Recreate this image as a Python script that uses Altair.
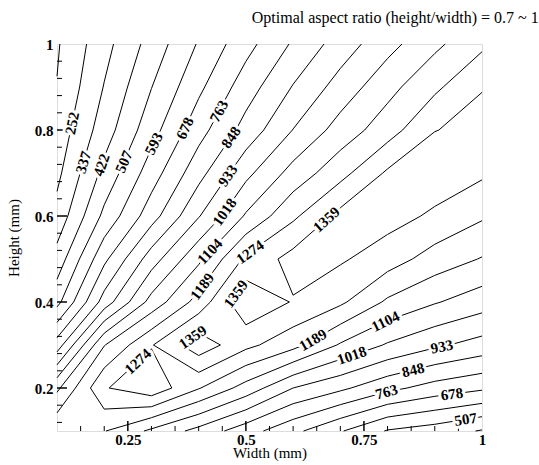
import math
import altair as alt
import pandas as pd

# ---------------- data ----------------
x_nodes = [0.1, 0.2, 0.3, 0.4, 0.5, 0.6, 0.7, 0.8, 0.9, 1.0]
y_nodes = [0.1, 0.2, 0.3, 0.4, 0.5, 0.6, 0.7, 0.8, 0.9, 1.0]

# grid values, one list per height (y), ordered by width (x)
z_h010 = [1180, 1108, 1001, 905, 800, 700, 600, 500, 466, 415]
z_h020 = [1000, 1267, 1334, 1195, 1070, 933, 866, 787, 729, 692]
z_h030 = [718, 1100, 1268, 1412, 1297, 1217, 1095, 1009, 948, 900]
z_h040 = [480, 800, 1050, 1223, 1429, 1353, 1290, 1175, 1111, 1058]
z_h050 = [370, 658, 892, 1086, 1291, 1391, 1370, 1315, 1237, 1184]
z_h060 = [280, 528, 726, 927, 1114, 1257, 1386, 1392, 1345, 1285]
z_h070 = [231, 447, 637, 818, 994, 1136, 1244, 1372, 1408, 1373]
z_h080 = [200, 380, 560, 730, 880, 1020, 1140, 1235, 1357, 1380]
z_h090 = [170, 341, 505, 659, 807, 938, 1053, 1161, 1256, 1356]
z_h100 = [158, 308, 455, 601, 733, 859, 972, 1075, 1170, 1256]

levels = [167, 252, 337, 422, 507, 593, 678, 763, 848, 933, 1018, 1104, 1189, 1274, 1359]

label_level = [252, 337, 422, 507, 593, 678, 763, 848, 933, 1018, 1104, 1189, 1274,
               1359, 1359, 1359, 1274, 1189, 1104, 1018, 933, 848, 763, 678, 507]
label_x = [0.132, 0.161, 0.193, 0.242, 0.304, 0.371, 0.437, 0.467, 0.460, 0.449, 0.424, 0.394, 0.516,
           0.668, 0.477, 0.389, 0.272, 0.632, 0.798, 0.724, 0.915, 0.855, 0.798, 0.936, 0.964]
label_y = [0.816, 0.723, 0.719, 0.726, 0.769, 0.804, 0.847, 0.784, 0.695, 0.614, 0.517, 0.447, 0.505,
           0.595, 0.420, 0.316, 0.261, 0.331, 0.350, 0.277, 0.296, 0.238, 0.191, 0.188, 0.137]

title_text = "Optimal aspect ratio (height/width) = 0.7 ~ 1"
x_major = [0.25, 0.5, 0.75, 1.0]
x_minor = [0.15, 0.2, 0.3, 0.35, 0.4, 0.45, 0.55, 0.6, 0.65, 0.7, 0.8, 0.85, 0.9, 0.95]
y_major = [0.2, 0.4, 0.6, 0.8, 1.0]
y_minor = [0.12, 0.16, 0.24, 0.28, 0.32, 0.36, 0.44, 0.48, 0.52, 0.56,
           0.64, 0.68, 0.72, 0.76, 0.84, 0.88, 0.92, 0.96]

# ---------------- layout ----------------
W, H = 425, 387
XMIN, XMAX, YMIN, YMAX = 0.1, 1.0, 0.1, 1.0
SX = W / (XMAX - XMIN)
SY = H / (YMAX - YMIN)
SERIF = "'Liberation Serif', 'Times New Roman', Times, 'DejaVu Serif', serif"

Z = [z_h010, z_h020, z_h030, z_h040, z_h050, z_h060, z_h070, z_h080, z_h090, z_h100]


def cell_segments(p, v, lev):
    """Marching squares on one cell; p, v ordered bl, br, tr, tl.
    Saddles keep the high corners apart."""
    pts = {}
    for e in range(4):
        a, b = e, (e + 1) % 4
        va, vb = v[a], v[b]
        if (va >= lev) != (vb >= lev):
            t = (lev - va) / (vb - va)
            pts[e] = (p[a][0] + t * (p[b][0] - p[a][0]), p[a][1] + t * (p[b][1] - p[a][1]))
    if len(pts) == 2:
        k = sorted(pts)
        return [(pts[k[0]], pts[k[1]])]
    if len(pts) == 4:
        if v[0] >= lev:   # corners 0 and 2 high -> isolate them
            return [(pts[3], pts[0]), (pts[1], pts[2])]
        return [(pts[0], pts[1]), (pts[2], pts[3])]
    return []


seg_rows = []
for lev in levels:
    for j in range(len(y_nodes) - 1):
        for i in range(len(x_nodes) - 1):
            p = [(x_nodes[i], y_nodes[j]), (x_nodes[i + 1], y_nodes[j]),
                 (x_nodes[i + 1], y_nodes[j + 1]), (x_nodes[i], y_nodes[j + 1])]
            v = [Z[j][i], Z[j][i + 1], Z[j + 1][i + 1], Z[j + 1][i]]
            for a, b in cell_segments(p, v, lev):
                seg_rows.append(dict(level=lev, x=a[0], y=a[1], x2=b[0], y2=b[1]))
segs = pd.DataFrame(seg_rows)

# labels snapped onto their contour, rotated along it
lab_rows = []
for lev, lx, ly in zip(label_level, label_x, label_y):
    best = None
    px, py = lx * SX, ly * SY
    for r in seg_rows:
        if r["level"] != lev:
            continue
        ax, ay, bx, by = r["x"] * SX, r["y"] * SY, r["x2"] * SX, r["y2"] * SY
        dx, dy = bx - ax, by - ay
        L2 = dx * dx + dy * dy
        t = 0 if L2 == 0 else max(0, min(1, ((px - ax) * dx + (py - ay) * dy) / L2))
        qx, qy = ax + t * dx, ay + t * dy
        d = (qx - px) ** 2 + (qy - py) ** 2
        if best is None or d < best[0]:
            best = (d, qx / SX, qy / SY, dx, dy)
    if best is None:
        continue
    _, qx, qy, dx, dy = best
    ang = math.degrees(math.atan2(-dy, dx))
    if ang > 90:
        ang -= 180
    if ang <= -90:
        ang += 180
    lab_rows.append(dict(x=qx, y=qy, text=str(lev), angle=ang % 360))
labs = pd.DataFrame(lab_rows)

xscale = alt.Scale(domain=[XMIN, XMAX], nice=False, zero=False)
yscale = alt.Scale(domain=[YMIN, YMAX], nice=False, zero=False)

xaxis = alt.Axis(values=x_major, format=".2~f", title="Width (mm)", ticks=False, domain=False,
                 grid=False, labelFlush=False, labelOverlap=False, labelFont=SERIF,
                 labelFontWeight="bold", labelFontSize=15, labelColor="black", labelPadding=1,
                 titleFont=SERIF, titleFontWeight="normal", titleFontSize=15, titleColor="black",
                 titlePadding=-2)
yaxis = alt.Axis(values=y_major, format=".2~f", title="Height (mm)", ticks=False, domain=False,
                 grid=False, labelFlush=False, labelOverlap=False, labelFont=SERIF,
                 labelFontWeight="bold", labelFontSize=15, labelColor="black", labelPadding=4,
                 titleFont=SERIF, titleFontWeight="normal", titleFontSize=15, titleColor="black",
                 titlePadding=13)

lines = alt.Chart(segs).mark_rule(color="black", strokeWidth=1).encode(
    x=alt.X("x:Q", scale=xscale, axis=xaxis),
    y=alt.Y("y:Q", scale=yscale, axis=yaxis),
    x2="x2:Q", y2="y2:Q")

xmaj = alt.Chart(pd.DataFrame({"v": x_major[:-1]})).mark_rule(color="black", strokeWidth=1.5).encode(
    x=alt.X("v:Q", scale=xscale), y=alt.value(H), y2=alt.value(H - 10))
xmin_ = alt.Chart(pd.DataFrame({"v": x_minor})).mark_rule(color="black", strokeWidth=1).encode(
    x=alt.X("v:Q", scale=xscale), y=alt.value(H), y2=alt.value(H - 5))
ymaj = alt.Chart(pd.DataFrame({"v": y_major[:-1]})).mark_rule(color="black", strokeWidth=1.5).encode(
    y=alt.Y("v:Q", scale=yscale), x=alt.value(0), x2=alt.value(10))
ymin_ = alt.Chart(pd.DataFrame({"v": y_minor})).mark_rule(color="black", strokeWidth=1).encode(
    y=alt.Y("v:Q", scale=yscale), x=alt.value(0), x2=alt.value(5))

enc = dict(x=alt.X("x:Q", scale=xscale), y=alt.Y("y:Q", scale=yscale), text="text:N",
           angle=alt.Angle("angle:Q", scale=None))
halo = alt.Chart(labs).mark_text(font=SERIF, fontWeight="bold", fontSize=15, stroke="white",
                                 strokeWidth=6, strokeJoin="round", fill="white",
                                 baseline="middle", align="center").encode(**enc)
text = alt.Chart(labs).mark_text(font=SERIF, fontWeight="bold", fontSize=15, color="black",
                                 baseline="middle", align="center").encode(**enc)

chart = alt.layer(lines, xmaj, xmin_, ymaj, ymin_, halo, text).properties(
    width=W, height=H,
    title=alt.TitleParams(title_text, anchor="end", dx=53, offset=11, font=SERIF,
                          fontSize=16, fontWeight="normal", color="black"),
    autosize=alt.AutoSizeParams(type="none"),
    padding={"left": 57, "top": 44, "right": 57, "bottom": 34},
).configure_view(stroke="black", strokeWidth=2).configure(background="white")

chart.save("out.html", embed_options={"renderer": "svg", "actions": False})
